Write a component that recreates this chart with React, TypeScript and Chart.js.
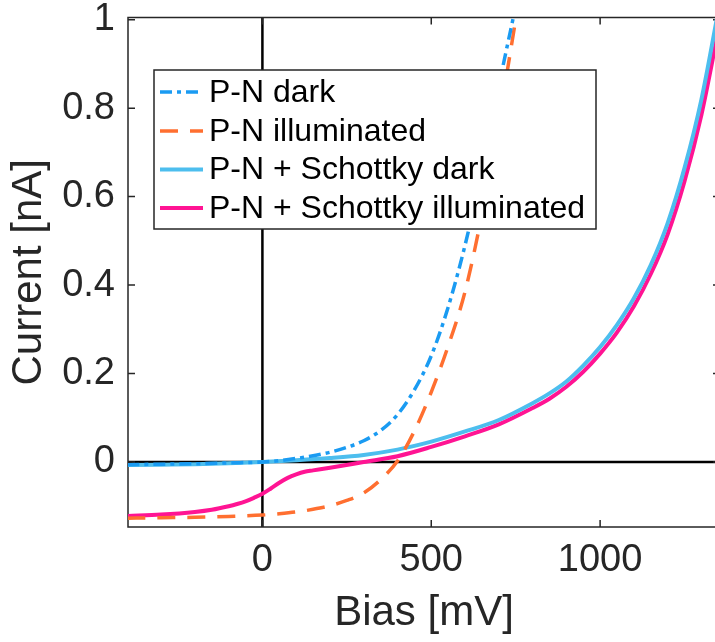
import React, { useEffect, useRef } from "react";
import { Chart, registerables } from "chart.js";

Chart.register(...registerables);

// ---- data (Bias in mV, Current in nA) ----
const pnDarkX = [-400, -300, -200, -100, 0, 50, 100, 150, 200, 250, 300, 350, 400, 450, 500, 550, 600, 650, 700, 750];
const pnDarkY = [-0.006, -0.005, -0.004, -0.002, 0, 0.003, 0.008, 0.014, 0.022, 0.033, 0.048, 0.071, 0.107, 0.163, 0.24, 0.35, 0.49, 0.66, 0.85, 1.03];

const pnIllumX = [-400, -300, -200, -100, 0, 50, 100, 150, 200, 250, 300, 350, 400, 450, 500, 550, 600, 650, 700, 750];
const pnIllumY = [-0.127, -0.126, -0.125, -0.123, -0.12, -0.117, -0.113, -0.107, -0.099, -0.087, -0.07, -0.04, 0.002, 0.07, 0.158, 0.262, 0.385, 0.56, 0.77, 1.0];

const schDarkX = [-400, -300, -200, -100, 0, 100, 200, 300, 400, 500, 600, 700, 800, 850, 900, 950, 1000, 1050, 1100, 1150, 1200, 1250, 1300, 1350];
const schDarkY = [-0.007, -0.006, -0.005, -0.003, 0, 0.004, 0.009, 0.016, 0.028, 0.046, 0.069, 0.095, 0.133, 0.155, 0.182, 0.218, 0.26, 0.31, 0.37, 0.445, 0.54, 0.665, 0.82, 1.02];

const schIllumX = [-400, -300, -200, -150, -100, -75, -50, -25, 0, 25, 50, 75, 100, 125, 150, 200, 300, 400, 500, 600, 700, 800, 850, 900, 950, 1000, 1050, 1100, 1150, 1200, 1250, 1300, 1350];
const schIllumY = [-0.122, -0.119, -0.113, -0.108, -0.1, -0.095, -0.089, -0.081, -0.072, -0.06, -0.047, -0.036, -0.028, -0.022, -0.019, -0.013, 0, 0.013, 0.034, 0.058, 0.085, 0.122, 0.143, 0.17, 0.204, 0.245, 0.293, 0.352, 0.425, 0.515, 0.635, 0.785, 0.975];

const seriesLabels = ["P-N dark", "P-N illuminated", "P-N + Schottky dark", "P-N + Schottky illuminated"];
const xTicks = [0, 500, 1000];
const yTicks = [0, 0.2, 0.4, 0.6, 0.8, 1];
const xTitle = "Bias [mV]";
const yTitle = "Current [nA]";

const FONT = "'Liberation Sans', Arial, Helvetica, sans-serif";
const AXIS_COLOR = "#262626";

const toPoints = (xs: number[], ys: number[]) => xs.map((x, i) => ({ x, y: ys[i] }));

const matlabPlugin = {
  id: "matlabAxes",
  beforeDatasetsDraw(chart: any) {
    const { ctx, chartArea: a, scales } = chart;
    const x = scales.x;
    const y = scales.y;
    ctx.save();
    // zero lines
    ctx.strokeStyle = "#000";
    ctx.lineWidth = 2.5;
    const x0 = x.getPixelForValue(0);
    const y0 = y.getPixelForValue(0);
    ctx.beginPath();
    ctx.moveTo(x0, a.top);
    ctx.lineTo(x0, a.bottom);
    ctx.moveTo(a.left, y0);
    ctx.lineTo(a.right, y0);
    ctx.stroke();
    // box
    ctx.strokeStyle = AXIS_COLOR;
    ctx.lineWidth = 1.5;
    ctx.strokeRect(a.left, a.top, a.right - a.left, a.bottom - a.top);
    // inward ticks
    const tl = 7;
    ctx.beginPath();
    xTicks.forEach((v) => {
      const px = x.getPixelForValue(v);
      ctx.moveTo(px, a.bottom);
      ctx.lineTo(px, a.bottom - tl);
      ctx.moveTo(px, a.top);
      ctx.lineTo(px, a.top + tl);
    });
    yTicks.forEach((v) => {
      const py = y.getPixelForValue(v);
      ctx.moveTo(a.left, py);
      ctx.lineTo(a.left + tl, py);
      ctx.moveTo(a.right, py);
      ctx.lineTo(a.right - tl, py);
    });
    ctx.stroke();
    ctx.restore();
  },
  afterDatasetsDraw(chart: any) {
    const { ctx } = chart;
    const box = { l: 154, t: 70, r: 596, b: 229 };
    ctx.save();
    ctx.fillStyle = "#fff";
    ctx.fillRect(box.l, box.t, box.r - box.l, box.b - box.t);
    ctx.strokeStyle = AXIS_COLOR;
    ctx.lineWidth = 1.5;
    ctx.strokeRect(box.l, box.t, box.r - box.l, box.b - box.t);
    const rows = [92, 131, 169.5, 208];
    chart.data.datasets.forEach((ds: any, i: number) => {
      const cy = rows[i];
      ctx.strokeStyle = ds.borderColor;
      ctx.lineWidth = ds.borderWidth;
      ctx.setLineDash(ds.borderDash || []);
      ctx.beginPath();
      ctx.moveTo(160, cy);
      ctx.lineTo(203, cy);
      ctx.stroke();
      ctx.setLineDash([]);
      ctx.fillStyle = "#000";
      ctx.font = `32px ${FONT}`;
      ctx.textBaseline = "middle";
      ctx.textAlign = "left";
      ctx.fillText(ds.label, 209, cy + 1);
    });
    ctx.restore();
  },
};

export default function App() {
  const ref = useRef<HTMLCanvasElement>(null);
  useEffect(() => {
    if (!ref.current) return;
    const chart = new Chart(ref.current, {
      type: "line",
      data: {
        datasets: [
          {
            label: seriesLabels[0],
            data: toPoints(pnDarkX, pnDarkY),
            borderColor: "#1a9bf2",
            borderWidth: 3.5,
            borderDash: [12, 5, 4, 5],
          },
          {
            label: seriesLabels[1],
            data: toPoints(pnIllumX, pnIllumY),
            borderColor: "#ff6f30",
            borderWidth: 3.5,
            borderDash: [18, 12],
          },
          {
            label: seriesLabels[2],
            data: toPoints(schDarkX, schDarkY),
            borderColor: "#4dbeee",
            borderWidth: 4,
          },
          {
            label: seriesLabels[3],
            data: toPoints(schIllumX, schIllumY),
            borderColor: "#ff1493",
            borderWidth: 4,
          },
        ] as any,
      },
      options: {
        animation: false,
        responsive: false,
        devicePixelRatio: 1,
        parsing: false as any,
        elements: {
          point: { radius: 0 },
          line: { cubicInterpolationMode: "monotone", fill: false },
        },
        layout: { padding: { top: 17.5, right: 2, left: 0, bottom: 0 } },
        plugins: { legend: { display: false }, tooltip: { enabled: false } },
        scales: {
          x: {
            type: "linear",
            min: -398,
            max: 1355,
            grid: { display: false, drawTicks: false },
            border: { display: false },
            afterBuildTicks: (s: any) => {
              s.ticks = xTicks.map((v) => ({ value: v }));
            },
            afterFit: (s: any) => {
              s.height = 115;
              s.paddingLeft = 0;
              s.paddingRight = 0;
            },
            ticks: {
              font: { family: FONT, size: 38 },
              color: AXIS_COLOR,
              padding: 11,
              maxRotation: 0,
              callback: (v: any) => String(v),
            },
            title: {
              display: true,
              text: xTitle,
              font: { family: FONT, size: 42 },
              color: AXIS_COLOR,
              padding: { top: 0, bottom: 3 },
            },
          },
          y: {
            type: "linear",
            min: -0.147,
            max: 1.005,
            grid: { display: false, drawTicks: false },
            border: { display: false },
            afterBuildTicks: (s: any) => {
              s.ticks = yTicks.map((v) => ({ value: v }));
            },
            afterFit: (s: any) => {
              s.width = 128;
              s.paddingTop = 0;
              s.paddingBottom = 0;
            },
            ticks: {
              font: { family: FONT, size: 38 },
              color: AXIS_COLOR,
              padding: 13,
              callback: (v: any) => String(Math.round(v * 10) / 10),
            },
            title: {
              display: true,
              text: yTitle,
              font: { family: FONT, size: 42 },
              color: AXIS_COLOR,
              padding: { top: 4, bottom: 0 },
            },
          },
        },
      },
      plugins: [matlabPlugin],
    });
    return () => chart.destroy();
  }, []);
  return (
    <div style={{ position: "absolute", left: 0, top: 0, width: 715, height: 642, overflow: "hidden", background: "#fff" }}>
      <canvas ref={ref} width={722} height={642} style={{ width: 722, height: 642, display: "block" }} />
    </div>
  );
}
